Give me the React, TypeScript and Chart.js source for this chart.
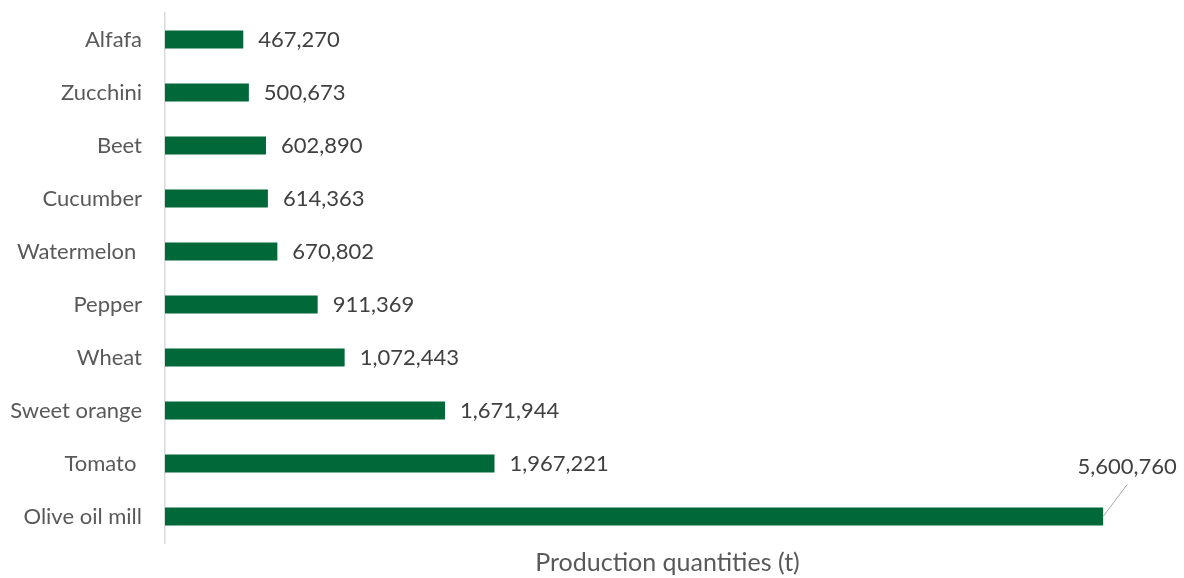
import React, { useEffect, useRef } from "react";
import { Chart, registerables } from "chart.js";

Chart.register(...registerables);

const categories = [
  "Alfafa",
  "Zucchini",
  "Beet",
  "Cucumber",
  "Watermelon ",
  "Pepper",
  "Wheat",
  "Sweet orange",
  "Tomato ",
  "Olive oil mill",
];
const production = [467270, 500673, 602890, 614363, 670802, 911369, 1072443, 1671944, 1967221, 5600760];
const axisTitle = "Production quantities (t)";
const xMax = 6000000;

const FONT = "Lato, 'Open Sans', sans-serif";

const valueLabels = {
  id: "valueLabels",
  afterDatasetsDraw(chart: any) {
    const ctx = chart.ctx;
    const meta = chart.getDatasetMeta(0);
    ctx.save();
    ctx.font = `22px ${FONT}`;
    ctx.fillStyle = "#404040";
    ctx.textBaseline = "middle";
    const data = chart.data.datasets[0].data as number[];
    meta.data.forEach((bar: any, i: number) => {
      const text = data[i].toLocaleString("en-US");
      const last = i === data.length - 1;
      if (last) {
        const lx = bar.x + 24;
        const ly = bar.y - 50;
        ctx.strokeStyle = "#a6a6a6";
        ctx.lineWidth = 1;
        ctx.beginPath();
        ctx.moveTo(bar.x, bar.y);
        ctx.lineTo(lx, bar.y - 32);
        ctx.stroke();
        ctx.textAlign = "center";
        ctx.fillText(text, lx, ly);
      } else {
        ctx.textAlign = "left";
        ctx.fillText(text, bar.x + 15, bar.y);
      }
    });
    ctx.restore();
  },
};

export default function App() {
  const ref = useRef<HTMLCanvasElement>(null);
  useEffect(() => {
    document.body.style.margin = "0";
    const chart = new Chart(ref.current!, {
      type: "bar",
      data: {
        labels: categories,
        datasets: [
          {
            data: production,
            backgroundColor: "#01683a",
            barPercentage: 0.68,
            categoryPercentage: 0.5,
          },
        ],
      },
      options: {
        indexAxis: "y",
        animation: false,
        responsive: false,
        maintainAspectRatio: false,
        layout: { padding: { top: 13, right: 14, left: 0, bottom: 0 } },
        plugins: { legend: { display: false }, tooltip: { enabled: false } },
        scales: {
          x: {
            min: 0,
            max: xMax,
            grid: { display: false },
            border: { display: false },
            ticks: { display: false },
            title: {
              display: true,
              text: axisTitle,
              color: "#595959",
              font: { family: FONT, size: 25 },
              padding: { top: 10, bottom: 0 },
            },
            afterFit(scale: any) {
              scale.height = 35;
            },
          },
          y: {
            grid: { display: false },
            border: { display: true, color: "#d9d9d9", width: 1.5 },
            ticks: {
              color: "#595959",
              font: { family: FONT, size: 22 },
              padding: 15,
            },
            afterFit(scale: any) {
              scale.width = 165;
              scale.paddingTop = 0;
              scale.paddingBottom = 0;
            },
          },
        },
      },
      plugins: [valueLabels],
    });
    return () => chart.destroy();
  }, []);
  return (
    <div style={{ width: 1184, height: 578 }}>
      <canvas ref={ref} width={1184} height={578} />
    </div>
  );
}
